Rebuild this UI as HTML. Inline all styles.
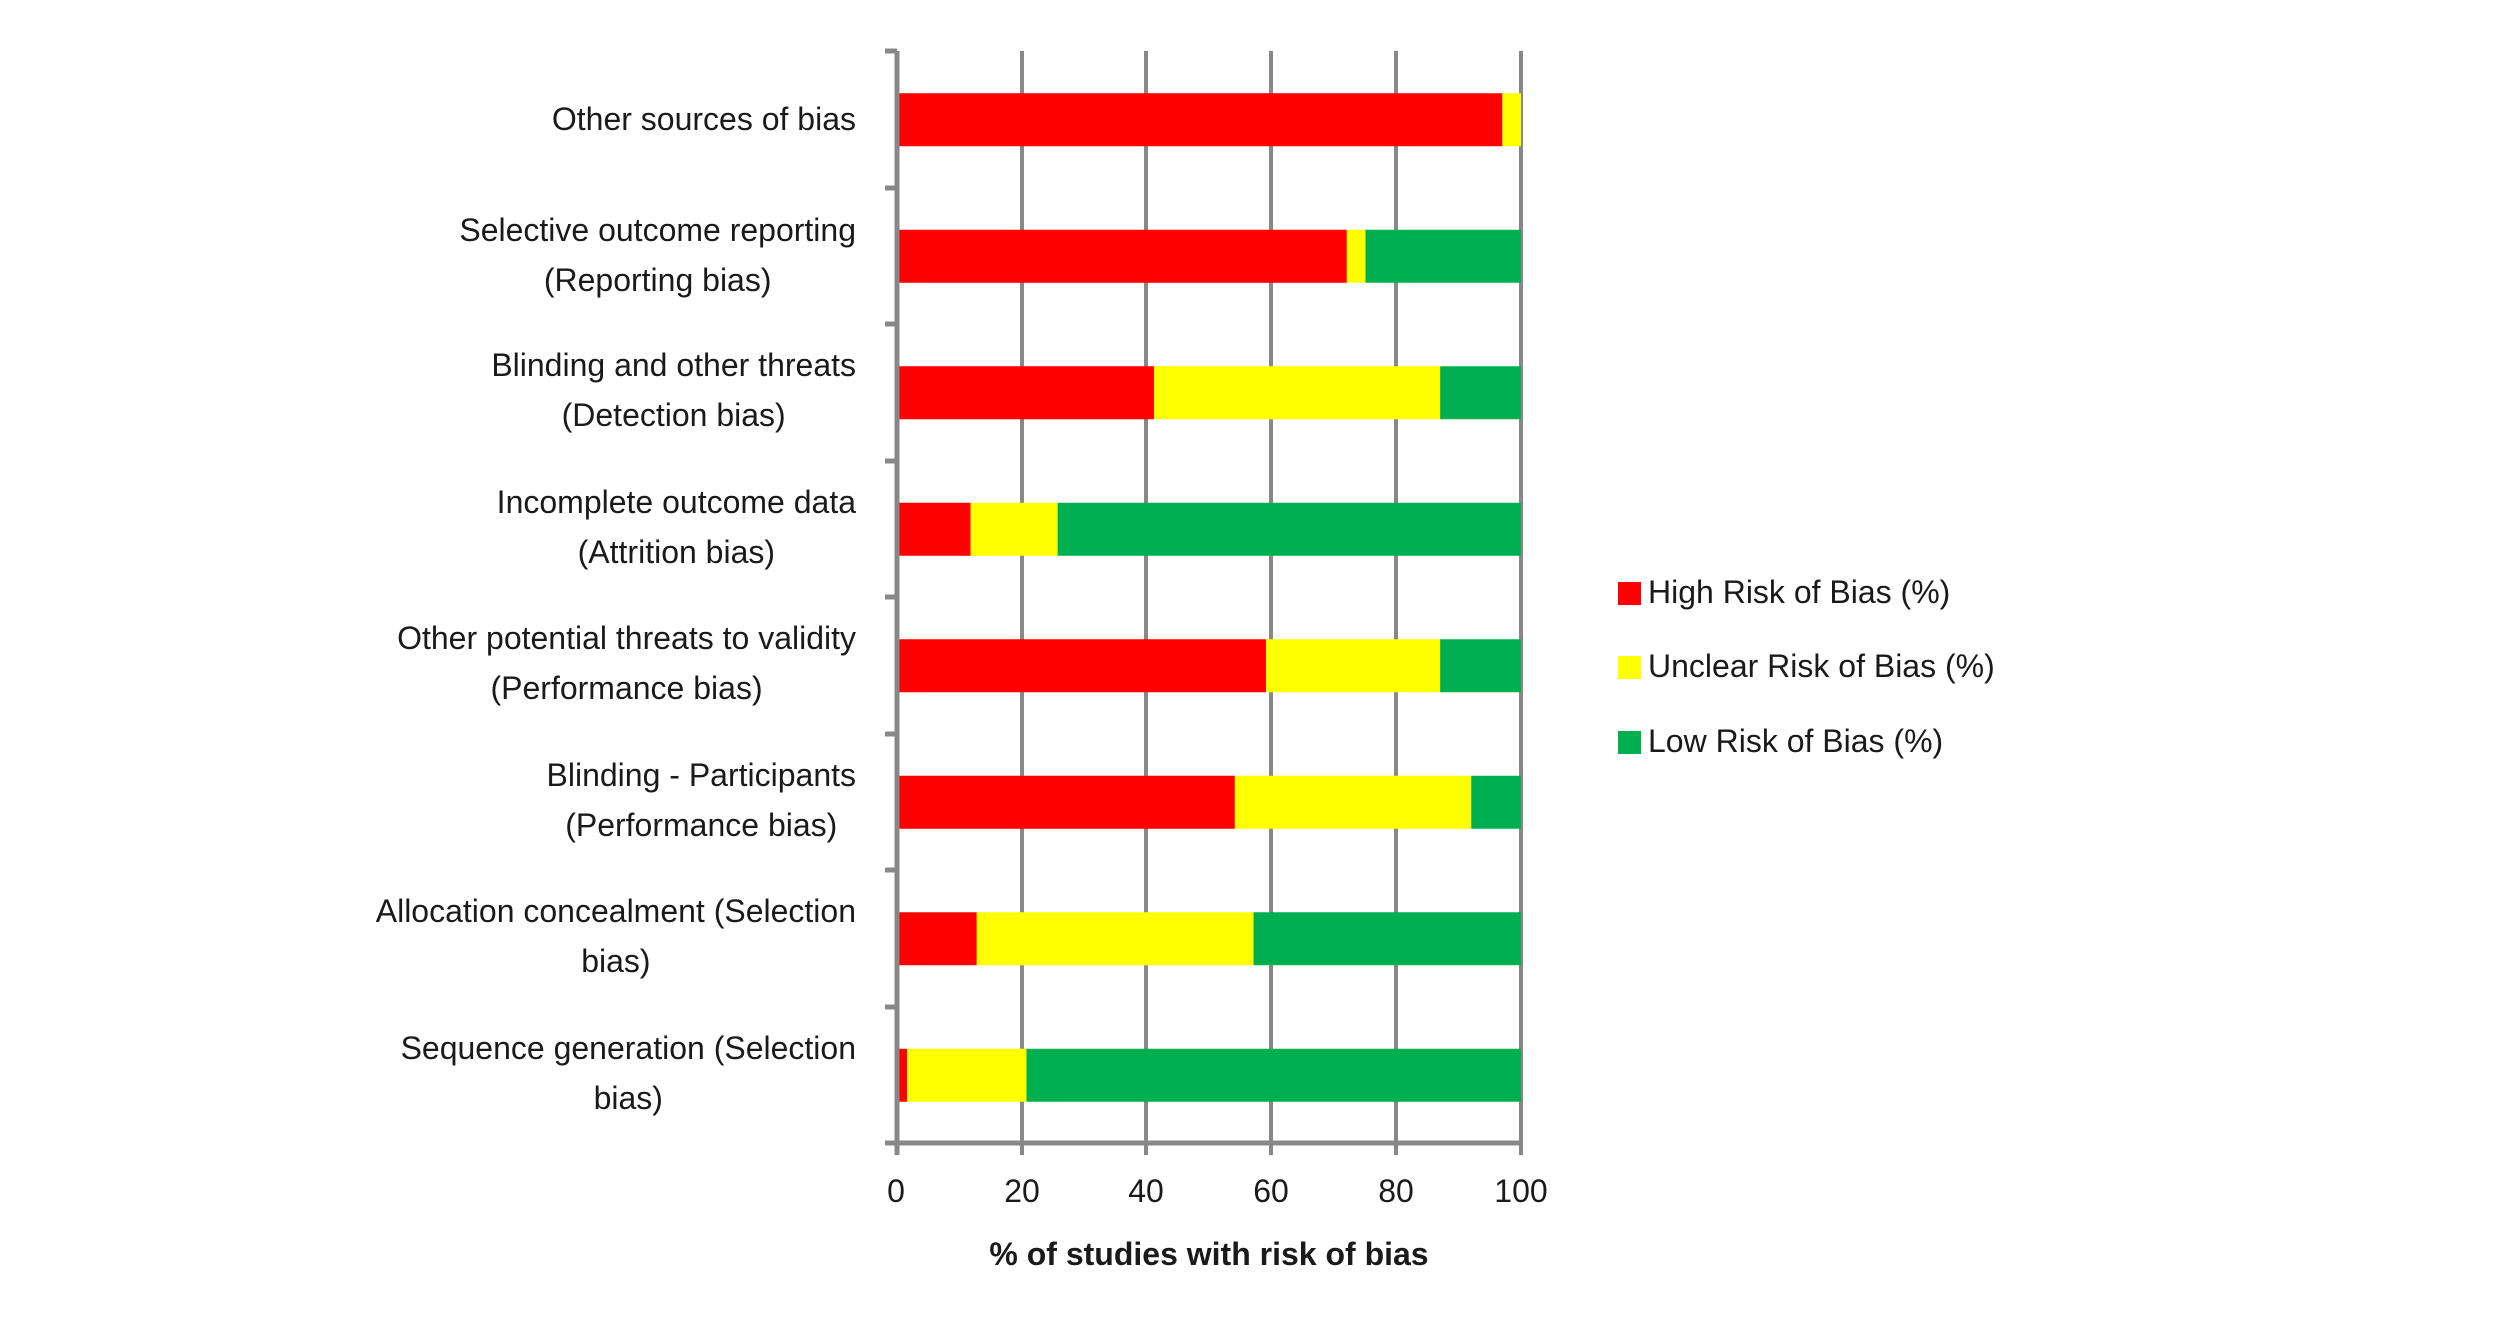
<!DOCTYPE html>
<html><head><meta charset="utf-8"><style>
html,body{margin:0;padding:0;background:#fff;}
#wrap{position:relative;width:2500px;height:1322px;overflow:hidden;font-family:"Liberation Sans",sans-serif;color:#1a1a1a;}
.lab{position:absolute;right:1644px;text-align:center;white-space:pre;font-size:32px;line-height:50px;}
.tk{position:absolute;font-size:32px;width:100px;text-align:center;top:1173px;}
.leg{position:absolute;left:1648px;font-size:32px;white-space:pre;}
.sw{position:absolute;left:1618px;width:23px;height:23px;}
</style></head><body><div id="wrap">
<svg width="2500" height="1322" style="position:absolute;left:0;top:0">
<g stroke="#888" stroke-width="4">
<line x1="1022" y1="51" x2="1022" y2="1155"/>
<line x1="1146" y1="51" x2="1146" y2="1155"/>
<line x1="1271" y1="51" x2="1271" y2="1155"/>
<line x1="1396" y1="51" x2="1396" y2="1155"/>
<line x1="1521" y1="51" x2="1521" y2="1155"/>
</g>
<g id="bars"></g>
<g stroke="#888" stroke-width="5">
<line x1="897" y1="51" x2="897" y2="1155"/>
<line x1="885" y1="1143" x2="1521" y2="1143"/>
<line x1="885" y1="51" x2="897" y2="51"/>
<line x1="885" y1="188" x2="897" y2="188"/>
<line x1="885" y1="324" x2="897" y2="324"/>
<line x1="885" y1="461" x2="897" y2="461"/>
<line x1="885" y1="597" x2="897" y2="597"/>
<line x1="885" y1="734" x2="897" y2="734"/>
<line x1="885" y1="870" x2="897" y2="870"/>
<line x1="885" y1="1007" x2="897" y2="1007"/>
</g>
</svg>
<div class="lab" style="top:94px">Other sources of bias</div>
<div class="lab" style="top:205px">Selective outcome reporting
(Reporting bias)</div>
<div class="lab" style="top:340px">Blinding and other threats
(Detection bias)</div>
<div class="lab" style="top:477px">Incomplete outcome data
(Attrition bias)</div>
<div class="lab" style="top:613px">Other potential threats to validity
(Performance bias)</div>
<div class="lab" style="top:750px">Blinding - Participants
(Performance bias)</div>
<div class="lab" style="top:886px">Allocation concealment (Selection
bias)</div>
<div class="lab" style="top:1023px">Sequence generation (Selection
bias)</div>
<div class="tk" style="left:846px">0</div>
<div class="tk" style="left:972px">20</div>
<div class="tk" style="left:1096px">40</div>
<div class="tk" style="left:1221px">60</div>
<div class="tk" style="left:1346px">80</div>
<div class="tk" style="left:1471px">100</div>
<div style="position:absolute;left:897px;width:624px;text-align:center;top:1236px;font-size:32px;font-weight:bold;">% of studies with risk of bias</div>
<div class="sw" style="top:582px;background:#ff0000"></div>
<div class="leg" style="top:574px">High Risk of Bias (%)</div>
<div class="sw" style="top:656px;background:#ffff00"></div>
<div class="leg" style="top:648px">Unclear Risk of Bias (%)</div>
<div class="sw" style="top:731px;background:#00b050"></div>
<div class="leg" style="top:723px">Low Risk of Bias (%)</div>
</div>
<script>
var d=[[97,3],[72,3],[41,46],[11.5,14],[59,28],[54,38],[12.5,44.5],[1.3,19.2]];
var g=document.getElementById('bars'),s='';
for(var i=0;i<8;i++){var cy=51+136.5*(i+0.5),y=cy-26,x0=899,k=6.22;
var r=d[i][0],u=d[i][1],gr=100-r-u;
s+='<rect x="'+x0+'" y="'+y+'" width="'+(r*k)+'" height="53" fill="#ff0000"/>';
s+='<rect x="'+(x0+r*k)+'" y="'+y+'" width="'+(u*k)+'" height="53" fill="#ffff00"/>';
if(gr>0.5)s+='<rect x="'+(x0+(r+u)*k)+'" y="'+y+'" width="'+(gr*k)+'" height="53" fill="#00b050"/>';}
g.innerHTML=s;
</script>
</body></html>
